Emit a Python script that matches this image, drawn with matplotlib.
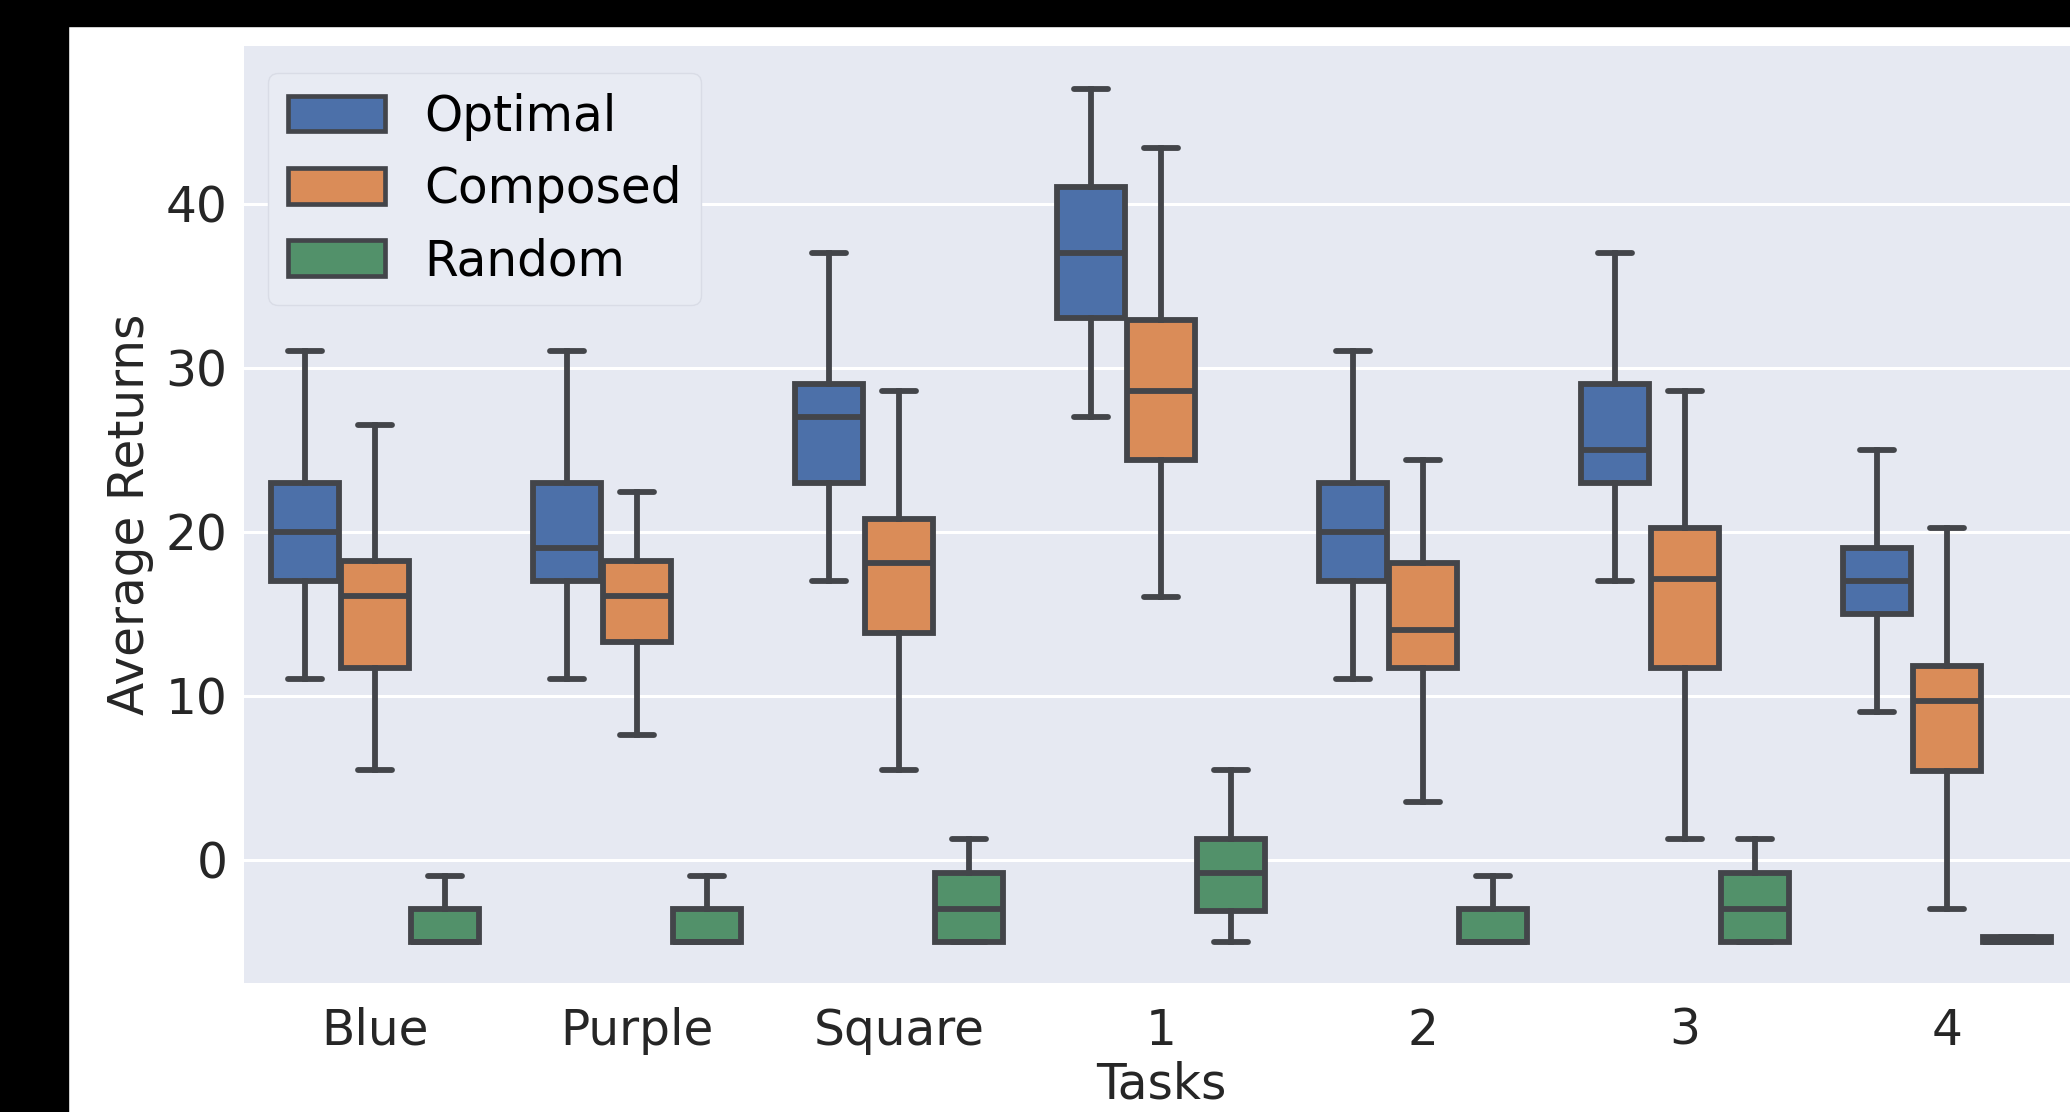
import matplotlib
matplotlib.use("Agg")
import matplotlib.pyplot as plt
from matplotlib.patches import Patch, Rectangle

tasks = ["Blue", "Purple", "Square", "1", "2", "3", "4"]
methods = ["Optimal", "Composed", "Random"]

# box statistics, one entry per task
optimal_lo = [11, 11, 17, 27, 11, 17, 9]
optimal_q1 = [17, 17, 23, 33, 17, 23, 15]
optimal_med = [20, 19, 27, 37, 20, 25, 17]
optimal_q3 = [23, 23, 29, 41, 23, 29, 19]
optimal_hi = [31, 31, 37, 47, 31, 37, 25]

composed_lo = [5.5, 7.6, 5.5, 16, 3.5, 1.3, -3]
composed_q1 = [11.7, 13.3, 13.8, 24.4, 11.7, 11.7, 5.4]
composed_med = [16.1, 16.1, 18.1, 28.6, 14.0, 17.1, 9.7]
composed_q3 = [18.2, 18.2, 20.8, 32.9, 18.1, 20.2, 11.8]
composed_hi = [26.5, 22.4, 28.6, 43.4, 24.4, 28.6, 20.2]

random_lo = [-5, -5, -5, -5, -5, -5, -5]
random_q1 = [-5, -5, -5, -3.1, -5, -5, -5]
random_med = [-5, -5, -3, -0.8, -5, -3, -5]
random_q3 = [-3, -3, -0.8, 1.3, -3, -0.8, -4.7]
random_hi = [-1, -1, 1.3, 5.5, -1, 1.3, -4.7]

colors = ["#4C70A9", "#DA8C58", "#52916A"]
edge = "#43454a"
lw = 4.2
fs = 35

series = [
    (optimal_lo, optimal_q1, optimal_med, optimal_q3, optimal_hi),
    (composed_lo, composed_q1, composed_med, composed_q3, composed_hi),
    (random_lo, random_q1, random_med, random_q3, random_hi),
]

fig = plt.figure(figsize=(20.7, 11.12), dpi=100, facecolor="white")
ax = fig.add_axes([244 / 2070, 1 - 983 / 1112, 1834 / 2070, 937 / 1112])
ax.set_facecolor("#E6E9F2")
for s in ax.spines.values():
    s.set_visible(False)
ax.grid(axis="y", color="white", lw=2.2)
ax.set_axisbelow(True)

hue_w = 0.8 / 3
for k, (lo, q1, med, q3, hi) in enumerate(series):
    stats = []
    for i in range(len(tasks)):
        stats.append(dict(whislo=lo[i], q1=q1[i], med=med[i], q3=q3[i],
                          whishi=hi[i], fliers=[]))
    pos = [i - hue_w + k * hue_w for i in range(len(tasks))]
    ax.bxp(stats, positions=pos, widths=hue_w * 0.97, patch_artist=True,
           showfliers=False, manage_ticks=False,
           boxprops=dict(facecolor=colors[k], edgecolor=edge, lw=lw),
           medianprops=dict(color=edge, lw=lw, solid_capstyle="butt"),
           whiskerprops=dict(color=edge, lw=lw),
           capprops=dict(color=edge, lw=lw, solid_capstyle="round"))

ax.set_xlim(-0.5, 6.5)
ax.set_ylim(-7.5, 49.6)
ax.set_xticks(range(len(tasks)))
ax.set_xticklabels(tasks)
ax.set_yticks([0, 10, 20, 30, 40])
ax.tick_params(axis="x", length=0, labelsize=fs, labelcolor="#262626", pad=17)
ax.tick_params(axis="y", length=0, labelsize=fs, labelcolor="#262626", pad=12)
ax.set_xlabel("Tasks", fontsize=fs, color="#262626", labelpad=4)
ax.set_ylabel("Average Returns", fontsize=fs, color="#262626", labelpad=8)

handles = [Patch(facecolor=c, edgecolor=edge, lw=lw * 0.8, label=m)
           for c, m in zip(colors, methods)]
leg = ax.legend(handles=handles, loc="upper left", fontsize=fs,
                frameon=True, facecolor="#E8EBF3", edgecolor="#d9dce6",
                framealpha=1, handlelength=2.0, handleheight=0.75,
                borderpad=0.4, labelspacing=0.5, handletextpad=0.8,
                bbox_to_anchor=(0.0, 0.997))

# black bands from the screenshot
fig.add_artist(Rectangle((0, 1 - 26 / 1112), 1, 26 / 1112,
                         transform=fig.transFigure, color="black", zorder=10))
fig.add_artist(Rectangle((0, 0), 68 / 2070, 1,
                         transform=fig.transFigure, color="black", zorder=10))

fig.savefig("out.png", dpi=100, facecolor="white")
